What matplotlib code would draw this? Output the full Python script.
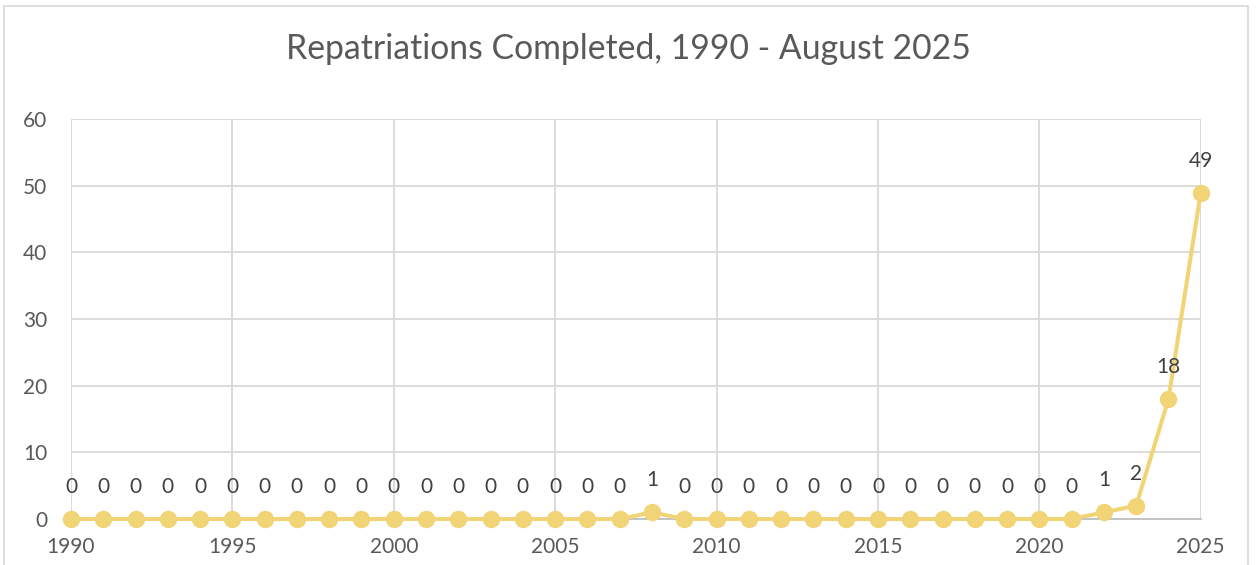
import matplotlib.pyplot as plt
from matplotlib.patches import Rectangle

years = list(range(1990, 2026))
repatriations = [0, 0, 0, 0, 0, 0, 0, 0, 0, 0,
                 0, 0, 0, 0, 0, 0, 0, 0, 1, 0,
                 0, 0, 0, 0, 0, 0, 0, 0, 0, 0,
                 0, 0, 1, 2, 18, 49]
x_ticks = [1990, 1995, 2000, 2005, 2010, 2015, 2020, 2025]
y_ticks = [0, 10, 20, 30, 40, 50, 60]

line_color = '#F0D475'
text_color = '#595959'
grid_color = '#D9D9D9'

plt.rcParams['font.family'] = ['Lato', 'DejaVu Sans']

fig = plt.figure(figsize=(12.56, 5.65), dpi=100)
ax = fig.add_axes([0.0565, 0.0814, 0.8995, 0.7076])

ax.plot(years, repatriations, color=line_color, linewidth=2.9,
        marker='o', markersize=11.5, zorder=3, clip_on=False)

for x, y in zip(years, repatriations):
    ax.annotate(str(y), (x, y), xytext=(0, 32), textcoords='offset pixels',
                ha='center', va='center', fontsize=15, color='#404040')

ax.set_xlim(1990, 2025)
ax.set_ylim(0, 60)
ax.set_xticks(x_ticks)
ax.set_yticks(y_ticks)
ax.tick_params(length=0, labelsize=15, labelcolor=text_color)
ax.tick_params(axis='x', pad=13)
ax.tick_params(axis='y', pad=17)
ax.grid(True, color=grid_color, linewidth=1.3)
ax.set_axisbelow(True)
for side in ['top', 'right', 'left']:
    ax.spines[side].set_visible(False)
ax.spines['bottom'].set_color('#BFBFBF')
ax.spines['bottom'].set_linewidth(1.3)

fig.text(0.5, 0.913, 'Repatriations Completed, 1990 - August 2025',
         ha='center', va='center', fontsize=24.3, color=text_color)

fig.patches.append(Rectangle((0.003, -0.05), 0.991, 1.04, transform=fig.transFigure,
                             fill=False, edgecolor='#D9D9D9', linewidth=1.2))

fig.savefig('out.png', dpi=100)
